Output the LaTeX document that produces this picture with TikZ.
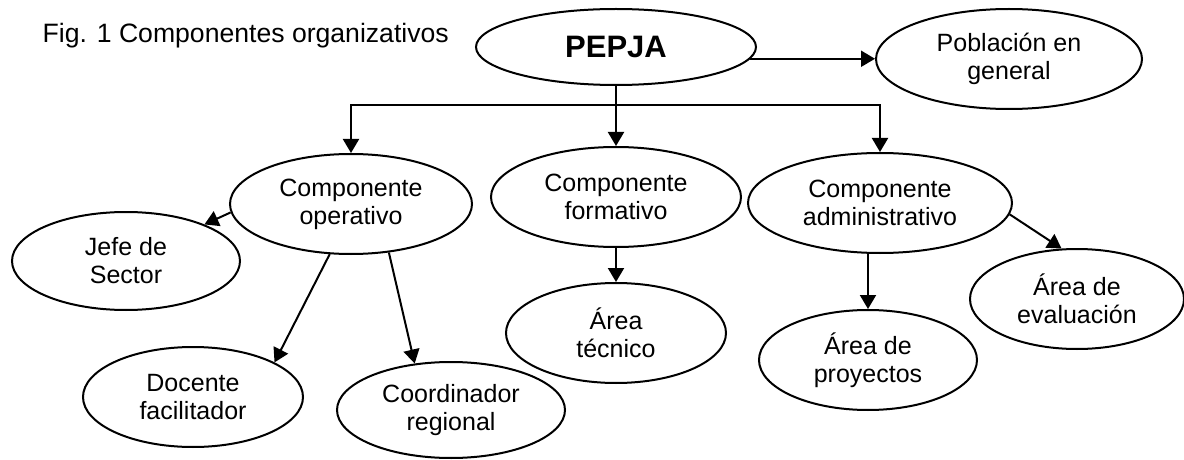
\documentclass[tikz,border=0pt]{standalone}
\usepackage{fontspec}
\setmainfont{Liberation Sans}
\usetikzlibrary{shapes.geometric}
\usetikzlibrary{arrows.meta}

\begin{document}
\begin{tikzpicture}
[x=0.5pt,y=-0.5pt,line width=1pt,%
  >={Triangle[width=8pt,length=7pt]},%
  every node/.style={font=\fontsize{12.5}{14}\selectfont,align=center},%
  comp/.style={shape=ellipse,draw,inner sep=0pt}]
\useasboundingbox (0,0) rectangle (1184,460);
\node[anchor=base west,font=\fontsize{13.3}{16}\selectfont] (fig) at (35,43) {Fig. 1 Componentes organizativos};
%%
\node[comp,minimum width=140pt,minimum height=38pt,
  font=\fontsize{15.5}{18}\selectfont\bfseries] (pepja) at (616,47) {PEPJA};
\node[comp,minimum width=133pt,minimum height=50pt] (pob) at (1009,59) {Población en\\general};
%%
\node[comp,minimum width=121pt,minimum height=50pt] (oper) at (351,204) {Componente\\operativo};
\node[comp,minimum width=125pt,minimum height=50pt] (form) at (616,197) {Componente\\formativo};
\node[comp,minimum width=132pt,minimum height=50pt] (admin) at (880,203) {Componente\\administrativo};
%%
\node[comp,minimum width=114pt,minimum height=49pt] (jefe) at (126,261) {Jefe de\\Sector};
\node[comp,minimum width=110pt,minimum height=50pt] (doc) at (193,397) {Docente\\facilitador};
\node[comp,minimum width=114pt,minimum height=48pt] (coord) at (451,410) {Coordinador\\regional};
%%
\node[comp,minimum width=110pt,minimum height=50pt] (tec) at (616,333) {Área\\técnico};
%%
\node[comp,minimum width=109pt,minimum height=50pt] (proy) at (868,360) {Área de\\proyectos};
\node[comp,minimum width=107pt,minimum height=50pt] (eval) at (1077,299) {Área de\\evaluación};
%%
\coordinate (bus) at (616,105);
\draw[->] (pepja.-5) -- (pepja.-5 -| pob.west);
\draw[->] (pepja.south) -- (form.north);
\draw[->] (bus) -| (oper.north);
\draw[->] (bus) -| (admin.north);
\draw[->] (form) -- (tec);
\draw[->] (admin.south -| proy.north) -- (proy.north);
\path
\foreach \startNode/\endNode in {oper.184/jefe.25, oper.247/doc.23, oper.308/coord.128, admin.355/eval.107}
{
  (\startNode) edge[->] (\endNode)
};
\end{tikzpicture}
\end{document}
